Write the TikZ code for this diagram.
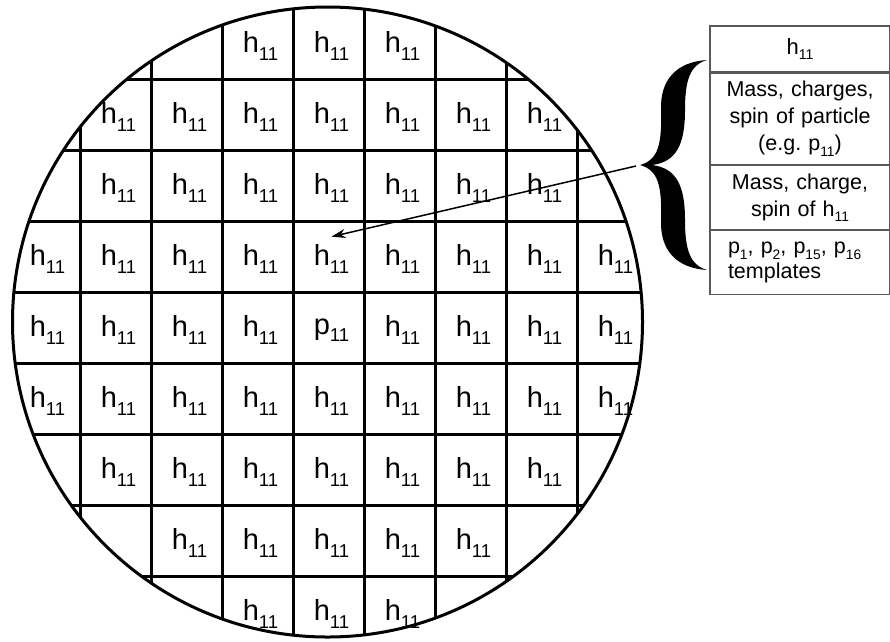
\documentclass[tikz,border=0pt]{standalone}
\usepackage{fontspec}
\setmainfont{Liberation Sans}
\usetikzlibrary{positioning, arrows.meta}

\newcommand\lo[1]{\raisebox{-.25em}{\scalebox{.64}{#1}}}

\begin{document}
\begin{tikzpicture}[x=1pt,y=-1pt,node distance=0pt]
  \tikzset{
    cell/.style={inner sep=8pt, font=\fontsize{29}{29}\selectfont},
    gridline/.style={line width=3pt},
    row/.style={draw=black!65, line width=1.2pt, text width=180pt, align=center,
                inner sep=0pt, font=\fontsize{21.5}{27}\selectfont},
  }
  \useasboundingbox (0,0) rectangle (890,641);

  \begin{scope}
    \clip (327.5,322) circle (315);
    \foreach \i in {1,...,8} {
      \draw[gridline] (9+71*\i,0) -- (9+71*\i,660);
      \draw[gridline] (0,8+71*\i) -- (660,8+71*\i);
    }
  \end{scope}
  \draw[line width=3pt] (327.5,322) circle (315);

  \foreach \r/\a/\b in {1/4/6, 2/2/8, 3/2/8, 4/1/9, 5/1/9, 6/1/9, 7/2/8, 8/3/7, 9/4/6}
    \foreach \c in {\a,...,\b}
      \node[cell] (c-\r-\c) at (71*\c-23.5, 71*\r-25) {\ifnum\r\c=55 p\else h\fi\lo{11}};

  \node[row, minimum height=46pt, font=\fontsize{22}{27}\selectfont] (spec) at (800,49) {h\lo{11}};
  \node[row, minimum height=91pt, below=of spec] (part) {Mass, charges,\\ spin of particle\\ (e.g.\ p\lo{11})};
  \node[row, minimum height=64pt, below=of part] (self) {Mass, charge,\\ spin of h\lo{11}};
  \node[row, minimum height=64pt, below=of self, align=left, text width=144pt, inner xsep=18pt,
        font=\fontsize{21.5}{25}\selectfont] (tmpl) {p\lo{1}, p\lo{2}, p\lo{15}, p\lo{16}\\ templates};

  \fill (707,60) .. controls (676,62) and (660,80) .. (661,110)
    .. controls (662,145) and (658,160) .. (640,165)
    .. controls (658,170) and (662,185) .. (661,220)
    .. controls (660,250) and (676,268) .. (707,270)
    .. controls (690,265) and (685,250) .. (685,220)
    .. controls (685,185) and (676,168) .. (652,165)
    .. controls (676,162) and (685,145) .. (685,110)
    .. controls (685,80) and (690,65) .. (707,60) -- cycle;
  \coordinate (tip) at (636,166);

  \draw[line width=1.5pt, -{Stealth[length=14pt,width=9pt]}] (tip) -- (c-4-5.north);
\end{tikzpicture}
\end{document}
